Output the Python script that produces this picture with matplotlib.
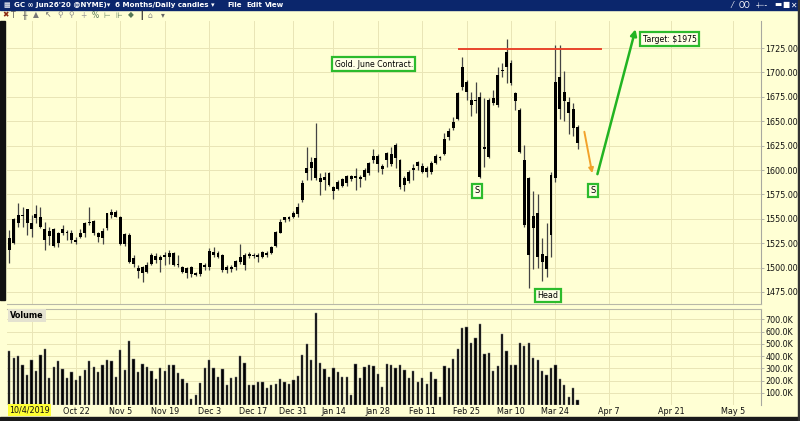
import numpy as np
import pandas as pd
import matplotlib
matplotlib.use("Agg")
import matplotlib.pyplot as plt
from matplotlib.patches import Rectangle

# ---------------- data ----------------
opens = [1518.0, 1525.0, 1545.4, 1553.9, 1559.7, 1539.2, 1554.9, 1551.5, 1539.2, 1532.4,
         1539.2, 1524.9, 1535.1, 1536.8, 1535.8, 1526.6, 1531.7, 1535.1, 1545.4, 1548.1,
         1535.1, 1530.0, 1540.2, 1553.9, 1557.3, 1552.2, 1524.2, 1533.4, 1509.5, 1499.3,
         1494.8, 1495.8, 1503.7, 1511.9, 1507.8, 1511.2, 1510.5, 1515.3, 1503.7, 1500.3,
         1494.1, 1500.3, 1492.4, 1493.4, 1502.7, 1501.0, 1516.3, 1515.3, 1512.9, 1497.5,
         1498.2, 1501.0, 1506.1, 1502.7, 1511.9, 1512.9, 1511.2, 1511.2, 1515.3, 1514.6,
         1522.1, 1535.8, 1548.8, 1551.5, 1551.5, 1554.9, 1569.3, 1596.6, 1601.7, 1611.9,
         1591.5, 1589.7, 1596.6, 1582.2, 1580.2, 1583.6, 1587.0, 1593.8, 1591.5, 1593.2,
         1592.5, 1596.6, 1610.2, 1614.3, 1604.1, 1610.2, 1606.1, 1611.9, 1610.2, 1584.6,
         1589.1, 1600.0, 1604.1, 1604.1, 1598.3, 1598.3, 1607.5, 1611.9, 1616.4, 1633.5,
         1642.7, 1651.9, 1685.3, 1690.5, 1671.7, 1671.0, 1675.1, 1621.1, 1613.6, 1673.4,
         1666.6, 1701.7, 1705.2, 1709.3, 1678.5, 1661.4, 1610.2, 1591.4, 1540.2, 1555.6,
         1514.0, 1511.5, 1533.4, 1591.5, 1695.6, 1671.0, 1669.5, 1663.0, 1644.0]
highs = [1538.5, 1550.5, 1566.5, 1562.4, 1559.7, 1553.9, 1564.1, 1562.4, 1547.1, 1541.3,
         1540.2, 1536.8, 1543.6, 1538.5, 1538.5, 1531.7, 1539.2, 1547.1, 1561.7, 1548.8,
         1536.8, 1540.2, 1556.3, 1559.7, 1559.0, 1552.9, 1535.8, 1535.1, 1512.9, 1502.7,
         1501.6, 1506.1, 1514.6, 1514.6, 1512.9, 1516.3, 1518.0, 1516.3, 1512.9, 1501.6,
         1501.0, 1501.6, 1495.8, 1505.1, 1504.4, 1519.7, 1521.4, 1517.3, 1513.9, 1502.7,
         1502.7, 1507.8, 1524.2, 1514.6, 1516.3, 1515.3, 1515.3, 1517.3, 1517.3, 1522.1,
         1537.8, 1549.4, 1552.2, 1552.9, 1558.3, 1566.5, 1589.7, 1623.9, 1613.6, 1647.8,
         1596.6, 1598.3, 1598.3, 1583.6, 1589.7, 1591.5, 1594.9, 1594.9, 1601.7, 1594.9,
         1601.7, 1608.5, 1621.2, 1616.4, 1606.1, 1618.8, 1623.9, 1627.3, 1610.9, 1593.8,
         1600.0, 1606.1, 1609.5, 1606.8, 1604.1, 1609.5, 1616.4, 1614.3, 1637.6, 1642.7,
         1654.6, 1680.2, 1716.1, 1692.2, 1680.2, 1690.5, 1680.2, 1673.4, 1673.4, 1681.9,
         1705.8, 1709.3, 1733.8, 1712.7, 1680.2, 1663.1, 1625.6, 1593.1, 1578.0, 1575.0,
         1530.0, 1545.5, 1598.3, 1728.0, 1728.0, 1701.5, 1675.0, 1669.0, 1646.0]
lows = [1504.4, 1524.2, 1541.9, 1541.9, 1533.4, 1531.7, 1545.4, 1540.2, 1518.0, 1523.2,
        1521.4, 1521.4, 1533.4, 1528.3, 1524.9, 1524.2, 1530.0, 1531.7, 1543.6, 1533.4,
        1526.6, 1524.2, 1538.5, 1550.5, 1551.5, 1523.2, 1522.1, 1504.4, 1501.0, 1489.0,
        1485.6, 1494.1, 1502.7, 1504.4, 1495.8, 1502.7, 1503.7, 1501.6, 1501.0, 1494.1,
        1489.0, 1490.7, 1491.4, 1491.4, 1497.5, 1497.5, 1511.2, 1509.5, 1495.8, 1494.8,
        1495.8, 1497.5, 1503.7, 1497.5, 1509.5, 1509.5, 1506.1, 1509.5, 1511.2, 1513.9,
        1520.8, 1535.1, 1547.1, 1548.1, 1550.5, 1552.2, 1567.5, 1589.7, 1589.7, 1589.7,
        1574.4, 1579.5, 1583.6, 1569.9, 1579.5, 1582.2, 1583.6, 1589.1, 1579.5, 1582.2,
        1589.7, 1594.9, 1607.5, 1598.3, 1595.9, 1603.4, 1604.1, 1601.7, 1580.2, 1578.8,
        1586.3, 1589.7, 1600.0, 1596.6, 1593.2, 1595.9, 1606.1, 1610.2, 1615.4, 1630.7,
        1641.0, 1651.2, 1681.9, 1671.7, 1655.3, 1658.0, 1591.4, 1603.4, 1611.9, 1666.6,
        1664.2, 1695.6, 1688.8, 1687.1, 1661.4, 1617.0, 1541.9, 1478.7, 1499.0, 1500.0,
        1486.5, 1490.0, 1511.2, 1588.0, 1652.0, 1650.0, 1637.0, 1635.0, 1622.0]
closes = [1530.0, 1549.4, 1553.9, 1553.0, 1545.4, 1545.4, 1550.5, 1541.3, 1528.3, 1537.8,
          1522.1, 1535.1, 1539.2, 1535.1, 1528.3, 1528.3, 1535.8, 1545.4, 1547.1, 1535.1,
          1531.0, 1537.8, 1555.6, 1557.3, 1552.2, 1524.2, 1534.4, 1506.1, 1503.7, 1496.9,
          1500.3, 1502.7, 1512.9, 1507.8, 1511.2, 1512.9, 1514.6, 1502.7, 1502.7, 1495.8,
          1499.3, 1493.4, 1494.1, 1504.4, 1501.0, 1517.3, 1512.9, 1511.2, 1497.5, 1500.3,
          1501.0, 1507.1, 1511.2, 1512.9, 1513.9, 1511.9, 1512.9, 1516.3, 1512.9, 1520.8,
          1536.8, 1547.1, 1551.5, 1549.4, 1556.3, 1562.4, 1586.3, 1601.7, 1608.5, 1591.5,
          1588.0, 1593.2, 1584.6, 1578.8, 1588.0, 1590.4, 1593.8, 1590.4, 1593.8, 1590.4,
          1600.0, 1606.8, 1614.3, 1606.1, 1600.7, 1617.7, 1616.4, 1625.6, 1582.2, 1591.5,
          1598.3, 1601.7, 1608.5, 1598.3, 1601.7, 1607.5, 1614.3, 1613.0, 1631.4, 1640.3,
          1649.5, 1678.5, 1705.8, 1680.2, 1666.6, 1671.7, 1593.1, 1623.2, 1671.7, 1669.0,
          1697.3, 1703.0, 1721.2, 1688.8, 1671.0, 1618.8, 1543.6, 1512.9, 1552.5, 1511.2,
          1506.1, 1498.2, 1594.9, 1690.5, 1663.0, 1680.2, 1658.0, 1642.7, 1627.3]
volumes_k = [440, 386, 400, 331, 249, 367, 277, 405, 454, 222,
             310, 356, 296, 222, 269, 203, 236, 290, 356, 310,
             269, 323, 364, 356, 230, 446, 285, 520, 378, 269,
             337, 310, 282, 209, 304, 282, 323, 331, 258, 214,
             176, 50, 78, 181, 301, 372, 304, 230, 296, 162,
             219, 233, 397, 345, 162, 162, 192, 187, 143, 160,
             173, 209, 192, 168, 203, 241, 405, 495, 372, 749,
             340, 296, 233, 299, 269, 233, 233, 78, 337, 222,
             312, 326, 320, 255, 146, 337, 326, 304, 326, 290,
             222, 274, 187, 217, 170, 266, 209, 67, 320, 299,
             380, 460, 629, 640, 506, 544, 664, 413, 427, 282,
             315, 577, 438, 331, 331, 503, 481, 509, 385, 372,
             275, 243, 305, 331, 209, 160, 63, 135, 39]

tick_dates = ["2019-10-08", "2019-10-22", "2019-11-05", "2019-11-19", "2019-12-03",
              "2019-12-17", "2019-12-31", "2020-01-14", "2020-01-28", "2020-02-11",
              "2020-02-25", "2020-03-10", "2020-03-24", "2020-04-07", "2020-04-21",
              "2020-05-05"]
tick_labels = ["", "Oct 22", "Nov 5", "Nov 19", "Dec 3", "Dec 17", "Dec 31", "Jan 14",
               "Jan 28", "Feb 11", "Feb 25", "Mar 10", "Mar 24", "Apr 7", "Apr 21", "May 5"]
price_ticks = [1475, 1500, 1525, 1550, 1575, 1600, 1625, 1650, 1675, 1700, 1725]
volume_ticks = [100, 200, 300, 400, 500, 600, 700]

# annotations drawn by the chart author
resistance_level = 1724.0
resistance_span = ("2020-02-24", "2020-04-07")

# ---------------- dates / positions ----------------
dates = pd.bdate_range("2019-10-01", "2020-03-31")
dates = dates.drop([pd.Timestamp("2019-12-25"), pd.Timestamp("2020-01-01")])
n = len(dates)
xs = np.arange(n)
last_date = dates[-1]


def date_pos(d):
    d = pd.Timestamp(d)
    if d <= last_date:
        return float(dates.get_indexer([d], method="nearest")[0])
    return (n - 1) + (d - last_date).days


tick_pos = [date_pos(d) for d in tick_dates]

# ---------------- figure ----------------
W, H = 800, 421
BG = "#FFFFD4"
GRID = "#E9E5B6"
fig = plt.figure(figsize=(8, 4.21), dpi=100, facecolor=BG)


def fx(px):
    return px / W


def fy(py):
    return 1 - py / H


# price panel
axp = fig.add_axes([fx(7), fy(304), fx(754), 283 / H])
# volume panel
axv = fig.add_axes([fx(7), fy(405), fx(754), 96 / H])

xlim = ((7 - 9.3) / 4.44, (761 - 9.3) / 4.44)

for ax in (axp, axv):
    ax.set_facecolor(BG)
    ax.set_xlim(*xlim)
    ax.set_xticks(tick_pos)
    ax.grid(True, color=GRID, lw=0.7)
    ax.set_axisbelow(True)
    ax.yaxis.tick_right()
    for s in ("left", "top", "bottom"):
        ax.spines[s].set_visible(False)
    ax.spines["right"].set_color("#A8A8A0")
    ax.spines["right"].set_linewidth(0.8)
    ax.tick_params(axis="y", which="both", length=2, width=0.6, color="#A8A8A0",
                   labelsize=5.8, pad=1, labelcolor="#111111")
    ax.tick_params(axis="x", length=0)

axp.spines["bottom"].set_visible(True)
axp.spines["bottom"].set_color("#B8B8A8")
axv.spines["top"].set_visible(True)
axv.spines["top"].set_color("#B8B8A8")

# candles
o = np.array(opens); c = np.array(closes); h = np.array(highs); l = np.array(lows)
axp.vlines(xs, l, h, color="#444444", lw=0.9, zorder=2)
body_lo = np.minimum(o, c)
body_h = np.maximum(np.abs(c - o), 0.9)
axp.bar(xs, body_h, bottom=body_lo, width=0.66, color="#000000", zorder=3)

axp.set_ylim(1462.7, 1752.7)
axp.set_yticks(price_ticks)
axp.set_yticklabels([f"{p:.2f}" for p in price_ticks])
axp.set_xticklabels([])

# resistance line
axp.plot([date_pos(resistance_span[0]) - 0.8, date_pos(resistance_span[1]) - 1.7],
         [resistance_level, resistance_level], color="#E8452C", lw=1.4, zorder=4)

# arrows
axp.annotate("", xy=(131.4, 1594), xytext=(129.4, 1642),
             arrowprops=dict(arrowstyle="-|>", color="#F2A22A", lw=1.4, mutation_scale=7),
             annotation_clip=False, zorder=5)
axp.annotate("", xy=(141.2, 1747), xytext=(132.3, 1593),
             arrowprops=dict(arrowstyle="-|>", color="#22B422", lw=1.8, mutation_scale=9),
             annotation_clip=False, zorder=5)

box = dict(boxstyle="square,pad=0.28", fc="#FFFFE6", ec="#2CBB2C", lw=1.6)
axp.text(82.1, 1708.6, "Gold. June Contract.", fontsize=5.6, ha="center", va="center",
         bbox=box, zorder=6)
axp.text(148.7, 1734.2, "Target: $1975", fontsize=5.6, ha="center", va="center",
         bbox=box, zorder=6)
axp.text(105.3, 1578.5, "S", fontsize=6, ha="center", va="center", bbox=box, zorder=6)
axp.text(131.5, 1579.0, "S", fontsize=6, ha="center", va="center", bbox=box, zorder=6)
axp.text(121.3, 1471.4, "Head", fontsize=5.8, ha="center", va="center", bbox=box, zorder=6)

# volume
axv.bar(xs, volumes_k, width=0.52, color="#000000", edgecolor="#7a7a7a", lw=0.35, zorder=3)
axv.set_ylim(0, 785)
axv.set_yticks(volume_ticks)
axv.set_yticklabels([f"{v:.1f}K" for v in volume_ticks])
axv.set_xticklabels(tick_labels, fontsize=5.8, color="#111111")
axv.tick_params(axis="x", pad=1.5)
axv.text(0.004, 0.975, "Volume", transform=axv.transAxes, fontsize=5.8, fontweight="bold",
         ha="left", va="top",
         bbox=dict(boxstyle="square,pad=0.25", fc="#E4E2D0", ec="none"), zorder=6)

# cursor date highlight on the x axis
fig.text(fx(9), fy(410), "10/4/2019", fontsize=5.8, ha="left", va="center", color="#111111",
         bbox=dict(boxstyle="square,pad=0.15", fc="#FFFF33", ec="none"))

# ---------------- window chrome ----------------
fig.add_artist(Rectangle((0, fy(9.5)), 1, 9.5 / H, transform=fig.transFigure,
                         color="#0B266C", zorder=0))
title_items = [(3, "▦"), (14, "GC ∞ Jun26'20 @NYME)▾"), (115, "6 Months/Daily candles ▾"),
               (227, "File"), (246, "Edit"), (265, "View")]
for px, t in title_items:
    fig.text(fx(px), fy(5), t, color="white", fontsize=5.1, fontweight="bold",
             ha="left", va="center")
for px, t in [(731, "⁄"), (739, "OO"), (756, "-⊢-"), (774, "▬"), (782, "■"), (790, "✕")]:
    fig.text(fx(px), fy(5), t, color="white", fontsize=5.5, ha="left", va="center")

# toolbar row
tool_items = [(2, "✖", "#8B2A10"), (11, "T", "#555555"), (22, "╫", "#555555"),
              (33, "▲", "#777777"), (45, "↖", "#666666"), (57, "⚲", "#888888"),
              (68, "⚲", "#888888"), (80, "+", "#999999"), (92, "%", "#557755"),
              (103, "⊢", "#557755"), (115, "⊩", "#557755"), (128, "◆", "#557755"),
              (139, "┃", "#333333"), (148, "⌂", "#888888"), (161, "▾", "#666666")]
for px, t, col in tool_items:
    fig.text(fx(px), fy(15), t, color=col, fontsize=5.5, ha="left", va="center")

# left dark strip and bottom border
fig.add_artist(Rectangle((0, fy(300)), fx(5), 279 / H, transform=fig.transFigure,
                         color="#111111", zorder=0))
fig.add_artist(Rectangle((0, 0), 1, 4 / H, transform=fig.transFigure,
                         color="#1a1a1a", zorder=0))
fig.add_artist(Rectangle((fx(798), 0), fx(2), 1, transform=fig.transFigure,
                         color="#333333", zorder=0))

fig.savefig("out.png", dpi=100, facecolor=BG)
